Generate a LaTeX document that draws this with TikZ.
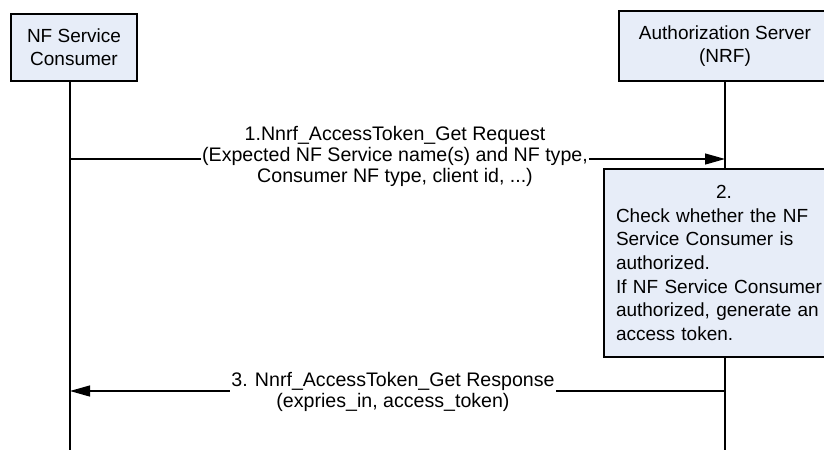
\documentclass[tikz,border=0pt]{standalone}
\usepackage{fontspec}
\setmainfont{Liberation Sans}
\usetikzlibrary{arrows.meta}
\definecolor{boxfill}{RGB}{231,237,248}
\begin{document}
\begin{tikzpicture}[x=1pt,y=-1pt,
  box/.style={draw=black,line width=1.2pt,fill=boxfill,inner sep=0pt,align=center,font=\fontsize{19}{23}\selectfont},
  life/.style={line width=1.2pt},
  msg/.style={line width=1.2pt,-{Triangle[length=20pt,width=11pt]}},
  lbl/.style={fill=white,inner sep=1.5pt,align=center,font=\fontsize{19.6}{21}\selectfont}]
\useasboundingbox (0,0) rectangle (824,450);
\clip (0,0) rectangle (824,450);
% participants
\node[box,minimum width=126pt,minimum height=67pt] (cons) at (74,47.5) {NF Service\\Consumer};
\node[box,minimum width=212pt,minimum height=70pt] (auth) at (725,46) {Authorization Server\\(NRF)};
% lifelines
\coordinate (ctop) at (70,81);
\coordinate (cbot) at (70,450);
\coordinate (abot) at (725,450);
\draw[life] (ctop) -- (cbot);
\draw[life] (auth.south) -- (abot);
% step 1
\coordinate (c1) at (70,159);
\coordinate (a1) at (725,159);
\draw[msg] (c1) -- (a1);
\node[lbl] (m1) at (395,156) {1.Nnrf\_AccessToken\_Get Request\\(Expected NF Service name(s) and NF type,\\Consumer NF type, client id, ...)};
% step 2
\node[box,minimum width=240pt,minimum height=188pt,text width=216pt,align=left,font=\fontsize{19}{23.7}\selectfont] (chk) at (724,263)
  {\makebox[216pt]{2.}\\Check whether the NF\\Service Consumer is\\authorized.\\If NF Service Consumer\\authorized, generate an\\access token.};
% step 3
\coordinate (a3) at (725,391);
\coordinate (c3) at (70,391);
\draw[msg] (a3) -- (c3);
\node[lbl] (m3) at (393,392) {3. Nnrf\_AccessToken\_Get Response\\(expries\_in, access\_token)};
\end{tikzpicture}
\end{document}
